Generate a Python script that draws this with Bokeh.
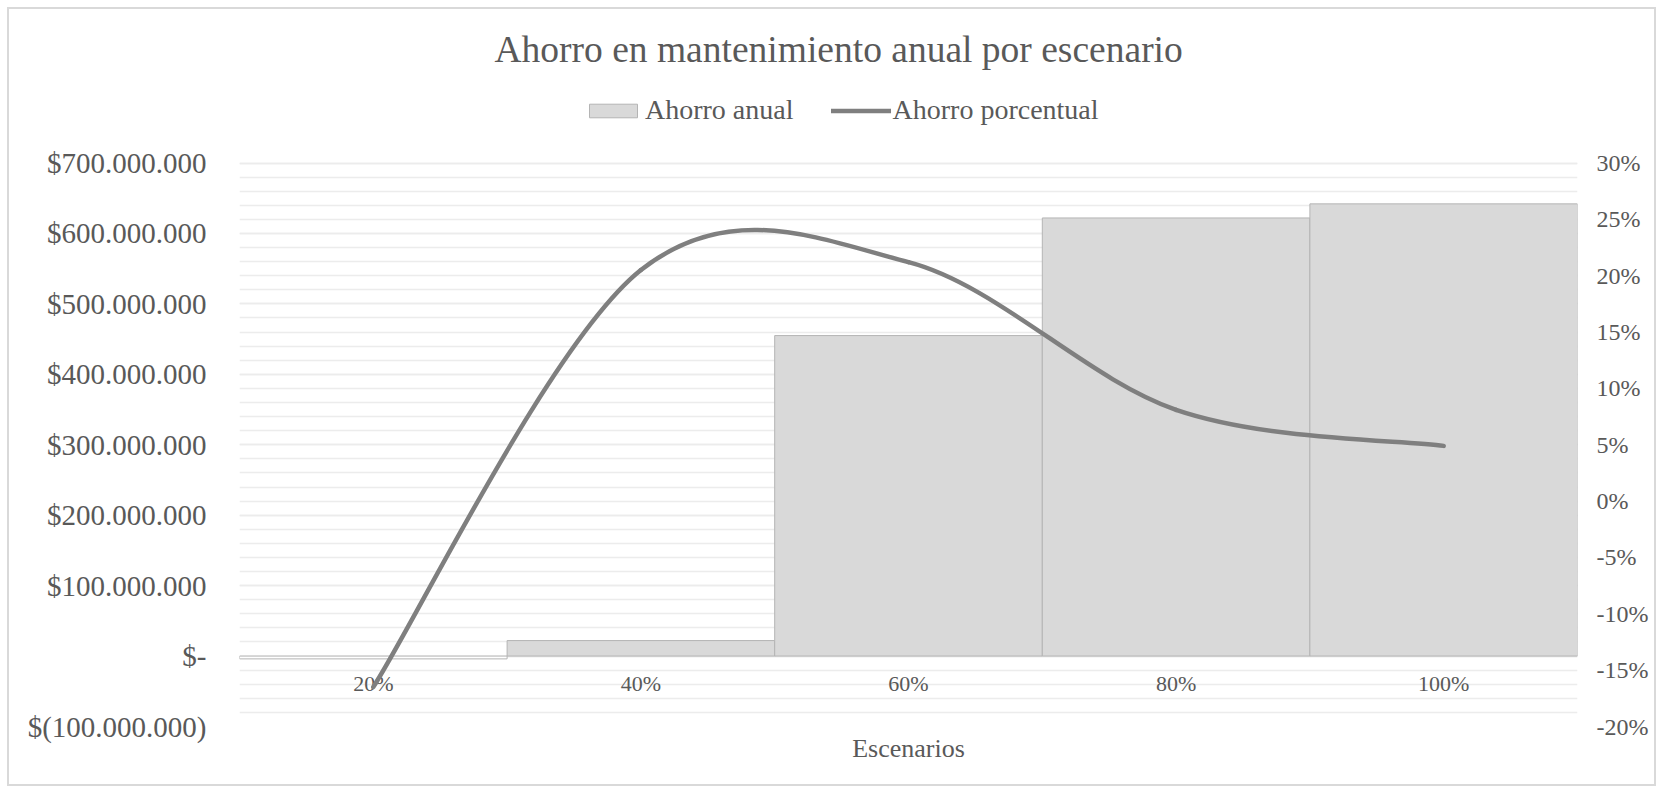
from bokeh.plotting import figure
from bokeh.models import (Range1d, LinearAxis, FixedTicker, NumeralTickFormatter,
                          Legend, LegendItem, ColumnDataSource, Title)
from bokeh.core.properties import value
from bokeh.embed import file_html
from bokeh.resources import INLINE

# ---- data -------------------------------------------------------------
categories = ["20%", "40%", "60%", "80%", "100%"]
ahorro_anual = [-4_000_000, 22_000_000, 455_000_000, 622_000_000, 642_000_000]
ahorro_porcentual = [-0.165, 0.205, 0.212, 0.081, 0.049]

left_ticks = [-100_000_000, 0, 100_000_000, 200_000_000, 300_000_000,
              400_000_000, 500_000_000, 600_000_000, 700_000_000]
left_tick_labels = ["$(100.000.000)", "$-", "$100.000.000", "$200.000.000",
                    "$300.000.000", "$400.000.000", "$500.000.000",
                    "$600.000.000", "$700.000.000"]
right_ticks = [-0.20, -0.15, -0.10, -0.05, 0.0, 0.05, 0.10, 0.15, 0.20, 0.25, 0.30]

# ---- style ------------------------------------------------------------
FONT = "Liberation Serif"
TEXT = "#595959"
BAR_FILL = "#d9d9d9"
BAR_LINE = "#b4b4b4"
LINE_COLOR = "#7f7f7f"
GRID = "#ececec"

xs = [i + 1 for i in range(len(categories))]

# empty headroom above the top tick keeps the legend inside the plot frame
HEADROOM = 120_000_000
y_lo, y_hi = left_ticks[0], left_ticks[-1] + HEADROOM
pct_per_unit = (right_ticks[-1] - right_ticks[0]) / (left_ticks[-1] - left_ticks[0])
pct_lo = right_ticks[0]
pct_hi = pct_lo + (y_hi - y_lo) * pct_per_unit

p = figure(width=1663, height=793, output_backend="svg", toolbar_location=None,
           x_range=Range1d(0.5, len(categories) + 0.5),
           y_range=Range1d(y_lo, y_hi),
           x_axis_location=None,
           min_border_left=239, min_border_right=86,
           min_border_top=78, min_border_bottom=67)
p.outline_line_color = None
p.background_fill_color = "white"
p.border_fill_alpha = 0
p.styles = {"background-color": "white",
            "box-shadow": "inset 0 0 0 7px white, inset 0 0 0 9px #d9d9d9"}

# title
p.title.text = "Ahorro en mantenimiento anual por escenario"
p.title.text_font = FONT
p.title.text_font_size = "37.5px"
p.title.text_font_style = "normal"
p.title.text_color = TEXT
p.title.align = "left"
p.title.offset = 255
p.title.standoff = 18

# left axis
yax = p.yaxis[0]
yax.ticker = FixedTicker(ticks=left_ticks,
                         minor_ticks=list(range(left_ticks[0], left_ticks[-1] + 1, 20_000_000)))
yax.major_label_overrides = {t: lab for t, lab in zip(left_ticks, left_tick_labels)}
yax.axis_line_color = None
yax.major_tick_line_color = None
yax.minor_tick_line_color = None
yax.major_label_standoff = 27
yax.major_label_text_font = FONT
yax.major_label_text_font_size = "29px"
yax.major_label_text_color = TEXT

p.ygrid.grid_line_color = GRID
p.ygrid.grid_line_width = 1.5
p.ygrid.minor_grid_line_color = GRID
p.ygrid.minor_grid_line_width = 1.5
p.xgrid.grid_line_color = None

# right axis (percent)
p.extra_y_ranges = {"pct": Range1d(pct_lo, pct_hi)}
rax = LinearAxis(y_range_name="pct", ticker=FixedTicker(ticks=right_ticks),
                 formatter=NumeralTickFormatter(format="0%"))
rax.axis_line_color = None
rax.major_tick_line_color = None
rax.minor_tick_line_color = None
rax.major_label_standoff = 13
rax.major_label_text_font = FONT
rax.major_label_text_font_size = "24px"
rax.major_label_text_color = TEXT
p.add_layout(rax, "right")

# bars (negative values drawn with white fill)
bar_src = ColumnDataSource(dict(
    x=xs, top=ahorro_anual,
    fill=["white" if v < 0 else BAR_FILL for v in ahorro_anual]))
bars = p.vbar(x="x", top="top", bottom=0, width=1.0, source=bar_src,
              fill_color="fill", line_color=BAR_LINE, line_width=1)

# category labels next to the zero line
p.text(x=xs, y=[0] * len(xs), text=categories, text_font=value(FONT),
       text_font_size="22px", text_color=TEXT, text_align="center",
       text_baseline="middle", y_offset=27)

# smoothed percent curve: cubic Bezier segments through the points
def smooth_segments(xv, yv):
    n = len(xv)
    seg = dict(x0=[], y0=[], x1=[], y1=[], cx0=[], cy0=[], cx1=[], cy1=[])
    for i in range(n - 1):
        a = max(i - 1, 0)
        d = min(i + 2, n - 1)
        seg["x0"].append(xv[i]); seg["y0"].append(yv[i])
        seg["x1"].append(xv[i + 1]); seg["y1"].append(yv[i + 1])
        seg["cx0"].append(xv[i] + (xv[i + 1] - xv[a]) / 6)
        seg["cy0"].append(yv[i] + (yv[i + 1] - yv[a]) / 6)
        seg["cx1"].append(xv[i + 1] - (xv[d] - xv[i]) / 6)
        seg["cy1"].append(yv[i + 1] - (yv[d] - yv[i]) / 6)
    return seg

curve = p.bezier(source=ColumnDataSource(smooth_segments(xs, ahorro_porcentual)),
                 x0="x0", y0="y0", x1="x1", y1="y1",
                 cx0="cx0", cy0="cy0", cx1="cx1", cy1="cy1",
                 y_range_name="pct", line_color=LINE_COLOR, line_width=4.5,
                 line_cap="round")

legend = Legend(items=[LegendItem(label="Ahorro anual", renderers=[bars], index=1),
                       LegendItem(label="Ahorro porcentual", renderers=[curve])],
                orientation="horizontal", location=(344, 600),
                glyph_width=60, glyph_height=17, label_standoff=2, spacing=37,
                padding=0, margin=0, border_line_color=None,
                background_fill_alpha=0, label_text_font=FONT,
                label_text_font_size="28px", label_text_color=TEXT,
                label_text_baseline="middle")
p.add_layout(legend, "center")

# x axis title below the plot
p.add_layout(Title(text="Escenarios", align="center", text_font=FONT,
                   text_font_size="26px", text_font_style="normal",
                   text_color=TEXT), "below")

open("out.html", "w").write(file_html(p, INLINE))
